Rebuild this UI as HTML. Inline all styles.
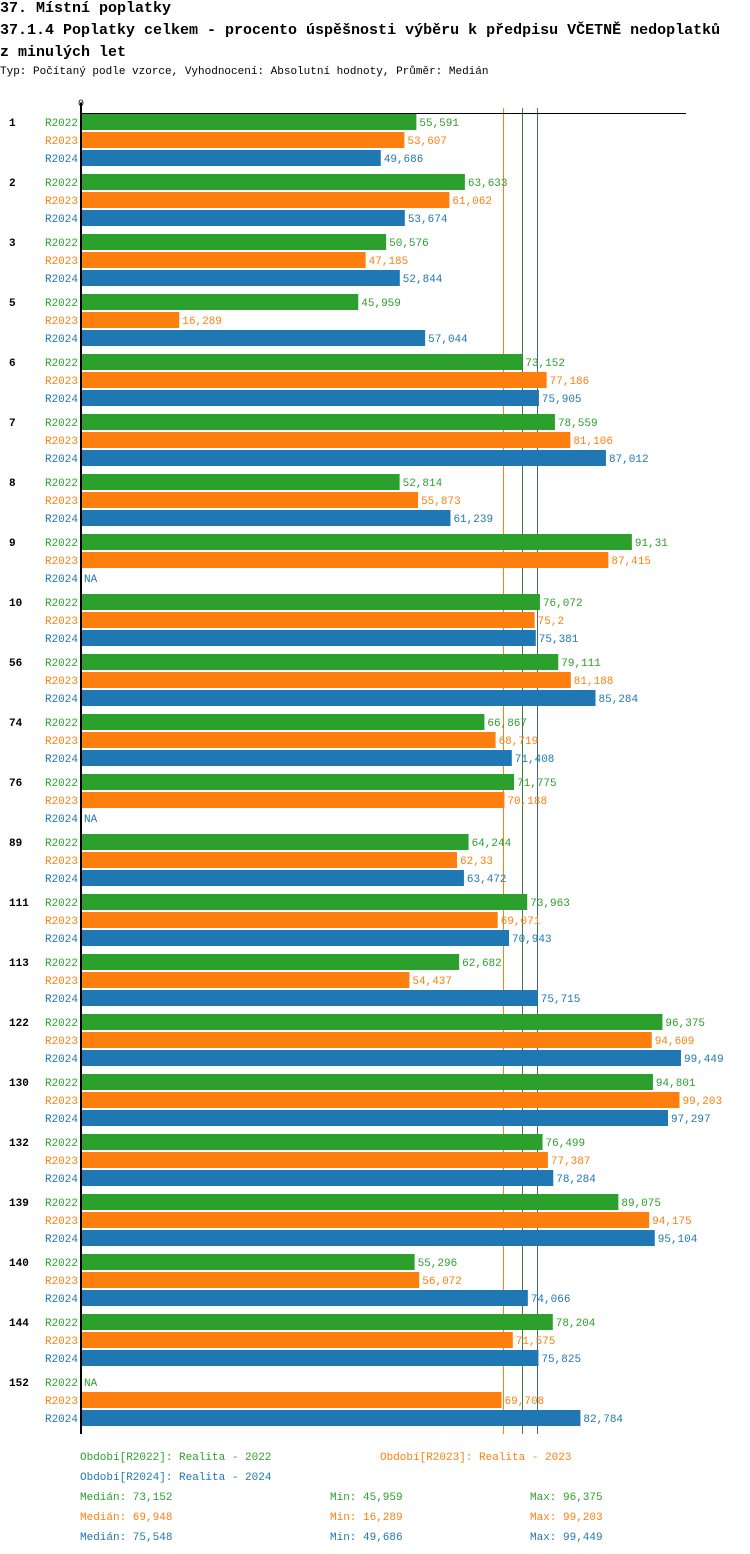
<!DOCTYPE html>
<html><head><meta charset="utf-8"><style>
body{margin:0;background:#fff;width:750px;height:1554px;overflow:hidden;font-family:"Liberation Mono","DejaVu Sans Mono",monospace}
.t{position:absolute;left:0;white-space:nowrap;color:#000}
</style></head><body>
<div class="t" style="top:0;font-size:15px;font-weight:bold;">37. Místní poplatky</div>
<div class="t" style="top:22px;font-size:15px;font-weight:bold;">37.1.4 Poplatky celkem - procento úspěšnosti výběru k předpisu VČETNĚ nedoplatků</div>
<div class="t" style="top:44px;font-size:15px;font-weight:bold;">z minulých let</div>
<div class="t" style="top:66px;font-size:11px;">Typ: Počítaný podle vzorce, Vyhodnocení: Absolutní hodnoty, Průměr: Medián</div>
<svg id="chart" width="750" height="1554" style="position:absolute;left:0;top:0" font-family="Liberation Mono, DejaVu Sans Mono, monospace" font-size="11"></svg>
<script>
const categories=["1","2","3","5","6","7","8","9","10","56","74","76","89","111","113","122","130","132","139","140","144","152"];
const seriesNames=["R2022","R2023","R2024"];
const r2022=[55.591,63.633,50.576,45.959,73.152,78.559,52.814,91.31,76.072,79.111,66.867,71.775,64.244,73.963,62.682,96.375,94.801,76.499,89.075,55.296,78.204,null];
const r2023=[53.607,61.062,47.185,16.289,77.186,81.106,55.873,87.415,75.2,81.188,68.719,70.188,62.33,69.071,54.437,94.609,99.203,77.387,94.175,56.072,71.575,69.708];
const r2024=[49.686,53.674,52.844,57.044,75.905,87.012,61.239,null,75.381,85.284,71.408,null,63.472,70.943,75.715,99.449,97.297,78.284,95.104,74.066,75.825,82.784];
const medians=[73.152,69.948,75.548];
const mins=["45,959","16,289","49,686"];
const maxs=["96,375","99,203","99,449"];
const medLabels=["73,152","69,948","75,548"];
const legendLabels=["Období[R2022]: Realita - 2022","Období[R2023]: Realita - 2023","Období[R2024]: Realita - 2024"];
const colors=["#2ca02c","#ff7f0e","#1f77b4"];
const lineColors=["#3d7a3d","#ff7f0e","#3a6a90"];
const series=[r2022,r2023,r2024];
const svg=document.getElementById('chart');
const NS='http://www.w3.org/2000/svg';
const x0=81, pxPerUnit=6.033;
const xs=v=>x0+v*pxPerUnit;
const groupY=i=>114+i*60;
function mk(tag,attrs,txt){const e=document.createElementNS(NS,tag);for(const k in attrs)e.setAttribute(k,attrs[k]);if(txt!=null)e.textContent=txt;svg.appendChild(e);return e;}
const fmt=v=>String(v).replace('.',',');
const order=[1,0,2];
order.forEach(j=>{
  const l=mk('line',{x1:Math.round(xs(medians[j]))+0.5,x2:Math.round(xs(medians[j]))+0.5,y1:108,y2:1434,stroke:lineColors[j],'stroke-width':1});
  
  
});
categories.forEach((c,i)=>{
  const gy=groupY(i);
  const gl=mk('text',{x:9,y:gy+12,'font-weight':'bold',fill:'#000'},c);
  
  
  series.forEach((s,j)=>{
    const y=gy+j*18;
    const sl=mk('text',{x:78,y:y+12,'text-anchor':'end',fill:colors[j]},seriesNames[j]);
    
    
    const v=s[i];
    if(v==null){
      const na=mk('text',{x:84,y:y+12,fill:colors[j]},'NA');
      
      
      return;
    }
    const b=mk('rect',{x:x0,y:y,width:xs(v)-x0,height:16,fill:colors[j]});
    
    
    const vl=mk('text',{x:xs(v)+3,y:y+12,fill:colors[j]},fmt(v));
    
    
  });
});
const ax=mk('line',{x1:81,x2:81,y1:103,y2:1434,stroke:'#000','stroke-width':2});


const tx=mk('line',{x1:80,x2:686,y1:113.5,y2:113.5,stroke:'#000','stroke-width':1});


const zl=mk('text',{x:81,y:106,'text-anchor':'middle',fill:'#000','font-size':10},'0');


const legPos=[[80,1460],[380,1460],[80,1480]];
legendLabels.forEach((t,j)=>{
  const e=mk('text',{x:legPos[j][0],y:legPos[j][1],fill:colors[j]},t);
  
  
});
for(let j=0;j<3;j++){
  const y=1500+j*20;
  const a=mk('text',{x:80,y:y,fill:colors[j]},'Medián: '+medLabels[j]);
  
  
  const b=mk('text',{x:330,y:y,fill:colors[j]},'Min: '+mins[j]);
  
  
  const c=mk('text',{x:530,y:y,fill:colors[j]},'Max: '+maxs[j]);
  
  
}
</script>
</body></html>
